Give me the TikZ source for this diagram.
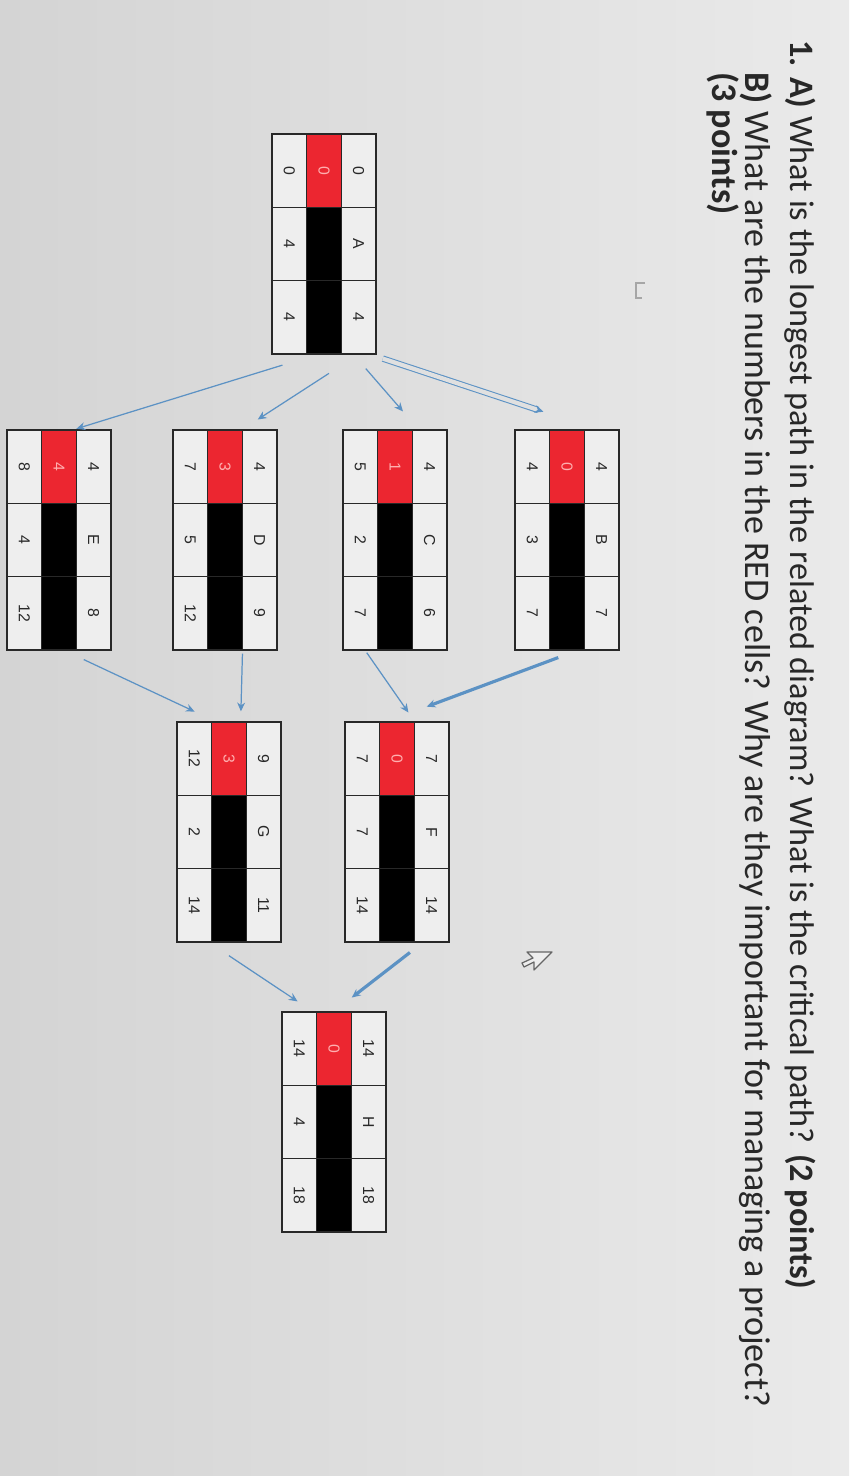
\documentclass[tikz,border=0pt]{standalone}
\usepackage{fontspec}
\setmainfont{Carlito}
\newfontfamily\cellfont{Liberation Sans}
\usetikzlibrary{arrows.meta}

\definecolor{bgleft}{RGB}{212,212,212}
\definecolor{bgright}{RGB}{234,234,234}
\definecolor{bgmid}{RGB}{224,224,224}
\definecolor{cellbg}{RGB}{238,238,238}
\definecolor{slackred}{RGB}{236,38,48}
\definecolor{slackink}{RGB}{255,175,175}
\definecolor{inkgray}{RGB}{40,40,40}
\definecolor{arrowblue}{RGB}{92,146,196}

\tikzset{
  actbox/.style={draw=inkgray, line width=0.8pt, minimum width=4.4cm, minimum height=2.08cm, inner sep=0},
  cellline/.style={draw=inkgray, line width=0.6pt},
  celltext/.style={font=\cellfont\fontsize{9}{9}\selectfont, text=inkgray, inner sep=0},
  slacktext/.style={celltext, text=slackink},
  qtext/.style={text=inkgray, inner sep=0, anchor=base west},
  flow/.style={->, draw=arrowblue, line width=0.7pt},
  flowthick/.style={flow, line width=1.8pt},
  flowdouble/.style={->, draw=arrowblue, line width=0.6pt, double=bgmid, double distance=2.4pt}
}

\begin{document}
\begin{tikzpicture}[x=0.02cm, y=0.02cm, >={Stealth[length=5pt, width=4.5pt]}]
    \shade[left color=bgleft, right color=bgright] (0,0) rectangle (849,-1476);
    \useasboundingbox (0,0) rectangle (849,-1476);
    \begin{scope}[shift={(849,0)}, rotate=-90, every node/.append style={transform shape}]
        \node[qtext, font=\fontsize{19.5}{21}\selectfont] (q1) at (40,-59) {\textbf{1. A)} What is the longest path in the related diagram? What is the critical path? \textbf{(2 points)}};
        \node[qtext, font=\fontsize{20.5}{22}\selectfont] (q2) at (72,-104) {\textbf{B)} What are the numbers in the RED cells? Why are they important for managing a project?};
        \node[qtext, font=\fontsize{20.5}{22}\selectfont] (q3) at (72,-137) {\textbf{(3 points)}};
        \draw[gray!70, line width=1pt] (283,-204) -- (283,-213) -- (298,-213) -- (298,-207);
        \foreach \n/\x/\y/\es/\ef/\sl/\ls/\du/\lf in {
            A/244/525/0/4/0/0/4/4,
            B/540/282/4/7/0/4/3/7,
            C/540/454/4/6/1/5/2/7,
            D/540/624/4/9/3/7/5/12,
            E/540/790/4/8/4/8/4/12,
            F/832/452/7/14/0/7/7/14,
            G/832/620/9/11/3/12/2/14,
            H/1122/515/14/18/0/14/4/18}
        {
            \fill[cellbg] (\x-110,-\y-52) rectangle (\x+110,-\y+52);
            \fill[slackred] (\x-110,-\y-17.33) rectangle (\x-36.67,-\y+17.33);
            \fill[black] (\x-36.67,-\y-17.33) rectangle (\x+110,-\y+17.33);
            \draw[cellline] (\x-36.67,-\y-52) -- (\x-36.67,-\y+52)
                (\x+36.67,-\y-52) -- (\x+36.67,-\y+52)
                (\x-110,-\y-17.33) -- (\x+110,-\y-17.33)
                (\x-110,-\y+17.33) -- (\x+110,-\y+17.33);
            \node[actbox] (\n) at (\x,-\y) {};
            \node[celltext] (\n-es) at (\x-73.33,-\y+34.67) {\es};
            \node[celltext] (\n-nm) at (\x,-\y+34.67) {\n};
            \node[celltext] (\n-ef) at (\x+73.33,-\y+34.67) {\ef};
            \node[slacktext] (\n-sl) at (\x-73.33,-\y) {\sl};
            \node[celltext] (\n-ls) at (\x-73.33,-\y-34.67) {\ls};
            \node[celltext] (\n-du) at (\x,-\y-34.67) {\du};
            \node[celltext] (\n-lf) at (\x+73.33,-\y-34.67) {\lf};
        }
        \draw[flowdouble, shorten <=7.1pt, shorten >=31.9pt] (A.23) -- (B.165);
        \foreach \s/\sa/\t/\ta/\gs/\gt in {A/15/C/168/10.5/13.5, A/17/D/171/19.6/10.3,
            A/-4/E/172/20.1/1.1, C/-15/F/171/1.4/6.1, D/9/G/174/1.7/5.7,
            E/3/G/187/11.9/13.1, G/-10/H/191/13.3/10.2}
          \draw[flow, shorten <=\gs pt, shorten >=\gt pt] (\s.\sa) -- (\t.\ta);
        \foreach \s/\sa/\t/\ta/\gs/\gt in {B/5/F/185/11.2/23.9, F/13/H/180/9.1/12.8}
          \draw[flowthick, shorten <=\gs pt, shorten >=\gt pt] (\s.\sa) -- (\t.\ta);
        \draw[gray!80!black, line width=0.7pt, fill=cellbg, line join=round]
            (952,-297) -- (952,-322) -- (958,-316) -- (963,-327) -- (967,-325)
            -- (962,-315) -- (970,-315) -- cycle;
    \end{scope}
\end{tikzpicture}
\end{document}
